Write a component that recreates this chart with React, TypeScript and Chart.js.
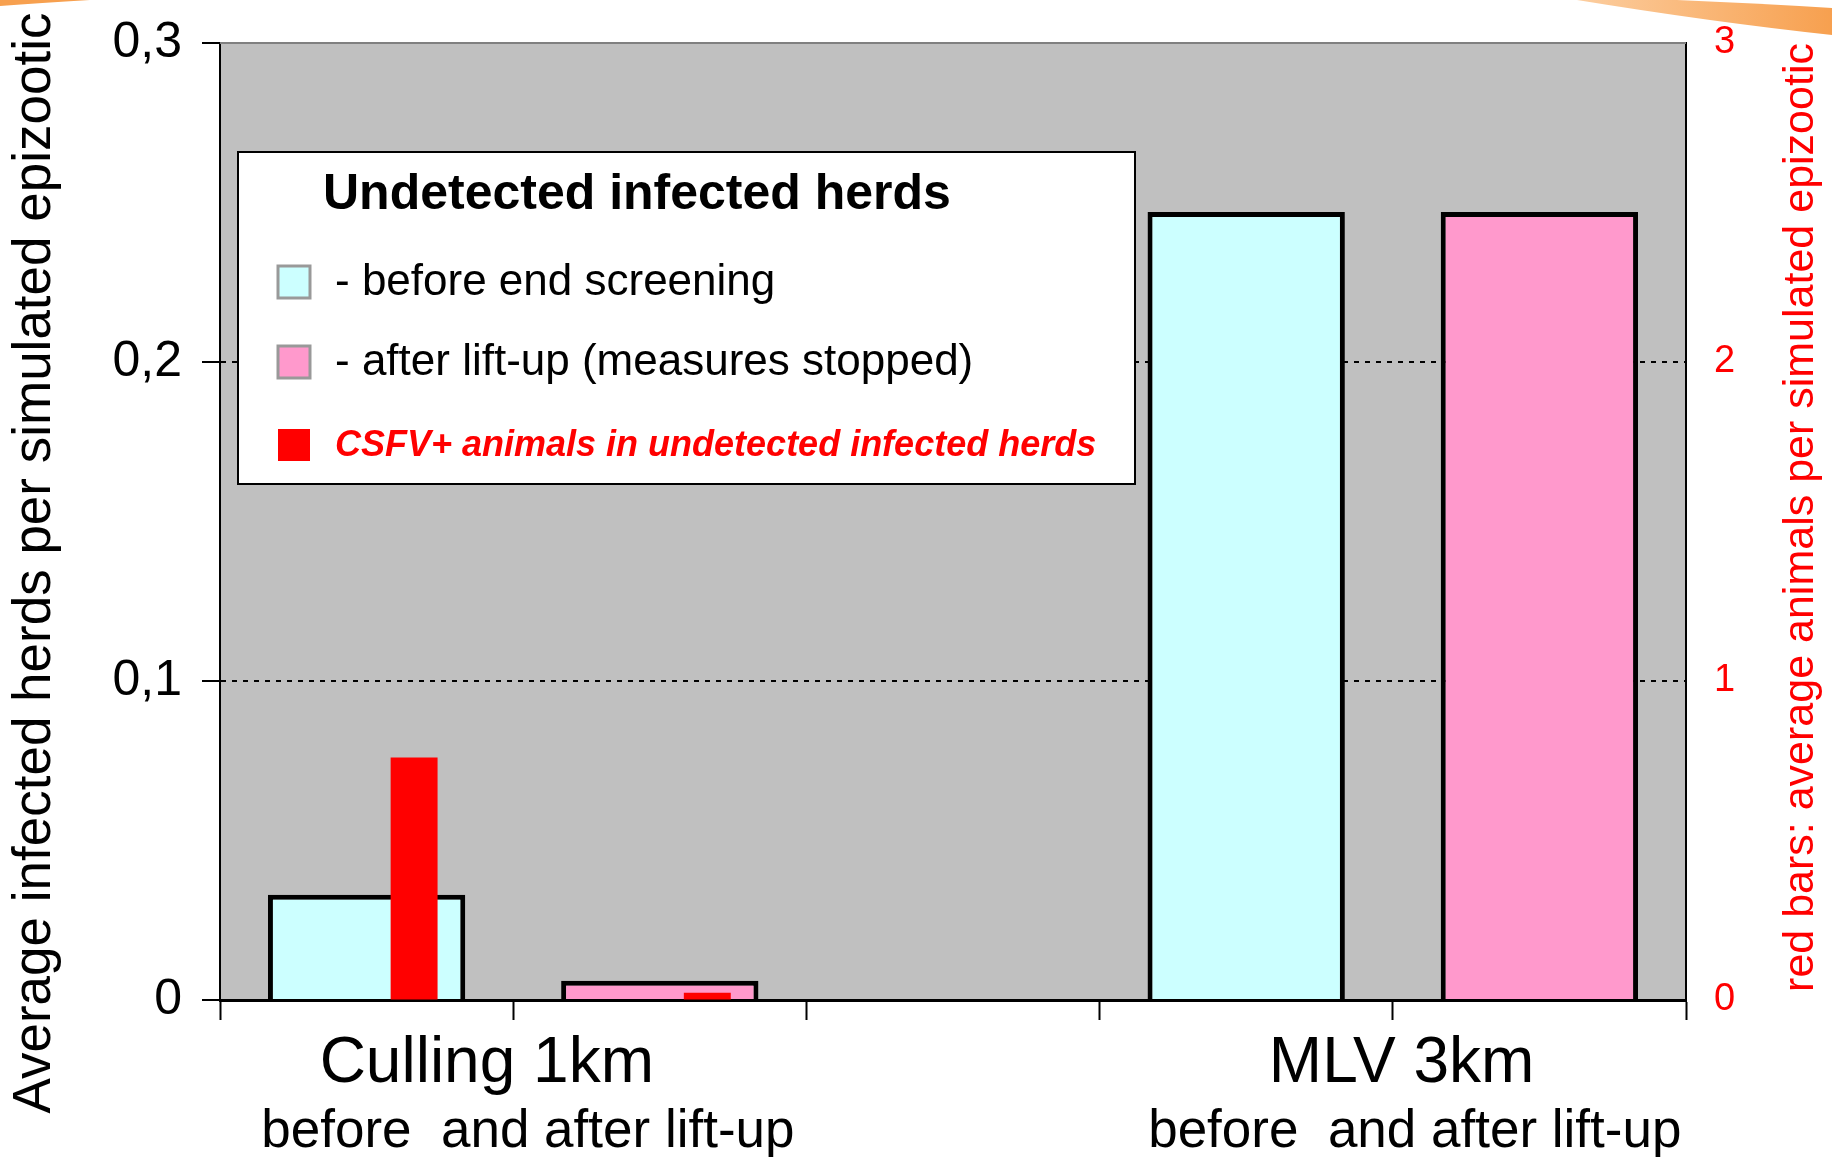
import React, { useEffect, useRef } from "react";
import { Chart, registerables } from "chart.js";

Chart.register(...registerables);

const FONT = "'Liberation Sans', Arial, Helvetica, sans-serif";

// ---- data ----
const categories = ["Culling 1km before", "Culling 1km after", "", "MLV 3km before", "MLV 3km after"];
const groupCaptions = ["Culling 1km", "MLV 3km"];
const groupSubCaption = "before  and after lift-up";
const herdsBefore = [0.033, null, null, 0.247, null];
const herdsAfter = [null, 0.006, null, null, 0.247];
const redAnimals = [0.76, 0.023, null, null, null];
const leftTickLabels = ["0", "0,1", "0,2", "0,3"];
const rightTickLabels = ["0", "1", "2", "3"];
const legendTitle = "Undetected infected herds";
const labelBefore = "- before end screening";
const labelAfter = "- after lift-up (measures stopped)";
const labelRed = "CSFV+ animals in undetected infected herds";
const leftTitle = "Average infected herds per simulated epizootic";
const rightTitle = "red bars: average animals per simulated epizootic";

const decorPlugin = {
  id: "decor",
  beforeDraw(chart: any) {
    const { ctx, chartArea, width } = chart;
    ctx.save();
    ctx.fillStyle = "#ffffff";
    ctx.fillRect(0, 0, chart.width, chart.height);
    // orange slide decoration
    const g = ctx.createLinearGradient(width - 270, 0, width, 0);
    g.addColorStop(0, "#fcd0a4");
    g.addColorStop(1, "#f7a04f");
    ctx.fillStyle = g;
    ctx.beginPath();
    ctx.moveTo(width - 255, 0);
    ctx.quadraticCurveTo(width - 120, 22, width, 35);
    ctx.lineTo(width, 8);
    ctx.quadraticCurveTo(width - 80, 3, width - 155, 0);
    ctx.closePath();
    ctx.fill();
    ctx.fillStyle = "#f7a04f";
    ctx.beginPath();
    ctx.moveTo(0, 0);
    ctx.lineTo(90, 0);
    ctx.quadraticCurveTo(40, 3, 0, 6);
    ctx.closePath();
    ctx.fill();
    // plot area background
    ctx.fillStyle = "#c0c0c0";
    ctx.fillRect(chartArea.left, chartArea.top, chartArea.right - chartArea.left, chartArea.bottom - chartArea.top);
    ctx.restore();
  },
};

const overlayPlugin = {
  id: "overlay",
  afterDatasetsDraw(chart: any) {
    const { ctx, chartArea } = chart;
    const ds = chart.data.datasets;
    ctx.save();
    // top border of plot area
    ctx.strokeStyle = "#808080";
    ctx.lineWidth = 2;
    ctx.beginPath();
    ctx.moveTo(chartArea.left, chartArea.top);
    ctx.lineTo(chartArea.right, chartArea.top);
    ctx.stroke();

    // legend box
    const x0 = chartArea.left + 18;
    const y0 = chartArea.top + 109;
    const w = 897;
    const h = 332;
    ctx.fillStyle = "#ffffff";
    ctx.fillRect(x0, y0, w, h);
    ctx.strokeStyle = "#000000";
    ctx.lineWidth = 2;
    ctx.strokeRect(x0, y0, w, h);

    ctx.textAlign = "left";
    ctx.textBaseline = "middle";
    ctx.fillStyle = "#000000";
    ctx.font = `bold 50px ${FONT}`;
    ctx.fillText(legendTitle, x0 + 85, y0 + 43);

    const items = [
      { d: ds[0], y: y0 + 130, font: `44px ${FONT}`, color: "#000000", box: true },
      { d: ds[1], y: y0 + 210, font: `44px ${FONT}`, color: "#000000", box: true },
      { d: ds[3], y: y0 + 293, font: `italic bold 36px ${FONT}`, color: "#ff0000", box: false },
    ];
    for (const it of items) {
      ctx.fillStyle = it.d.backgroundColor;
      ctx.fillRect(x0 + 40, it.y - 16, 32, 32);
      if (it.box) {
        ctx.strokeStyle = "#999999";
        ctx.lineWidth = 3;
        ctx.strokeRect(x0 + 40, it.y - 16, 32, 32);
      }
      ctx.fillStyle = it.color;
      ctx.font = it.font;
      ctx.fillText(it.d.label, x0 + 97, it.y + 1);
    }
    ctx.restore();
  },
  afterDraw(chart: any) {
    const { ctx, chartArea } = chart;
    const xs = chart.scales.x;
    ctx.save();
    ctx.fillStyle = "#000000";
    ctx.textAlign = "center";
    ctx.textBaseline = "middle";
    const capPos = [0.41, 3.53];
    const subPos = [0.55, 3.575];
    groupCaptions.forEach((c, i) => {
      ctx.font = `64px ${FONT}`;
      ctx.fillText(c, xs.getPixelForValue(capPos[i]), chartArea.bottom + 64);
      ctx.font = `53px ${FONT}`;
      ctx.fillText(groupSubCaption, xs.getPixelForValue(subPos[i]), chartArea.bottom + 132);
    });
    ctx.restore();

    // left axis title, reading bottom to top
    ctx.save();
    ctx.textAlign = "center";
    ctx.textBaseline = "middle";
    ctx.translate(35, 563);
    ctx.rotate(-Math.PI / 2);
    ctx.fillStyle = "#000000";
    ctx.font = `53px ${FONT}`;
    ctx.fillText(leftTitle, 0, 0);
    ctx.restore();

    // right axis title, reading bottom to top
    ctx.save();
    ctx.textAlign = "center";
    ctx.textBaseline = "middle";
    ctx.translate(chartArea.right + 115, (chartArea.top + chartArea.bottom) / 2 - 4);
    ctx.rotate(-Math.PI / 2);
    ctx.fillStyle = "#ff0000";
    ctx.font = `43px ${FONT}`;
    ctx.fillText(rightTitle, 0, 0);
    ctx.restore();
  },
};

export default function App() {
  const ref = useRef<HTMLCanvasElement | null>(null);

  useEffect(() => {
    document.body.style.margin = "0";
    const canvas = ref.current;
    if (!canvas) return;
    const chart = new Chart(canvas, {
      type: "bar",
      data: {
        labels: categories,
        datasets: [
          {
            label: labelBefore,
            data: herdsBefore,
            backgroundColor: "#ccffff",
            borderColor: "#000000",
            borderWidth: 5,
            grouped: false,
            categoryPercentage: 1,
            barPercentage: 0.673,
            xAxisID: "x",
            yAxisID: "y",
            order: 1,
          },
          {
            label: labelAfter,
            data: herdsAfter,
            backgroundColor: "#ff99cc",
            borderColor: "#000000",
            borderWidth: 5,
            grouped: false,
            categoryPercentage: 1,
            barPercentage: 0.673,
            xAxisID: "x",
            yAxisID: "y",
            order: 1,
          },
          {
            label: "",
            data: [null, null, null, null, null],
            backgroundColor: "rgba(0,0,0,0)",
            borderWidth: 0,
            categoryPercentage: 1.296,
            barPercentage: 0.494,
            xAxisID: "xr",
            yAxisID: "y2",
            order: 0,
          },
          {
            label: labelRed,
            data: redAnimals,
            backgroundColor: "#ff0000",
            borderWidth: 0,
            categoryPercentage: 1.296,
            barPercentage: 0.494,
            xAxisID: "xr",
            yAxisID: "y2",
            order: 0,
          },
        ] as any,
      },
      options: {
        responsive: false,
        animation: false,
        devicePixelRatio: 1,
        layout: { padding: { top: 43, left: 0, right: 0, bottom: 0 } },
        plugins: {
          legend: { display: false },
          tooltip: { enabled: false },
          title: { display: false },
        },
        scales: {
          x: {
            type: "category",
            position: "bottom",
            offset: true,
            grid: {
              display: true,
              offset: true,
              drawOnChartArea: false,
              drawTicks: true,
              tickLength: 20,
              tickColor: "#000000",
              tickWidth: 2,
              tickBorderDash: [],
            },
            border: { display: true, color: "#000000", width: 3 },
            ticks: { display: false },
            afterFit: (s: any) => {
              s.height = 157;
            },
          },
          xr: {
            type: "category",
            position: "bottom",
            display: false,
            offset: true,
            labels: categories,
            grid: { offset: true },
          },
          y: {
            type: "linear",
            position: "left",
            min: 0,
            max: 0.3,
            ticks: {
              stepSize: 0.1,
              color: "#000000",
              padding: 20,
              font: { family: FONT, size: 50 },
              callback: (_v: any, i: number) => leftTickLabels[i],
            },
            grid: {
              display: true,
              drawOnChartArea: true,
              drawTicks: true,
              tickLength: 18,
              tickWidth: 2,
              tickColor: "#000000",
              tickBorderDash: [],
              lineWidth: 2,
              color: (c: any) => (c.index > 0 && c.index < 3 ? "#000000" : "rgba(0,0,0,0)"),
            },
            border: { display: true, color: "#000000", width: 2, dash: [5, 6] },
            title: { display: false },
            afterFit: (s: any) => {
              s.width = 220;
              s.paddingTop = 0;
              s.paddingBottom = 0;
            },
          },
          y2: {
            type: "linear",
            position: "right",
            min: 0,
            max: 3,
            ticks: {
              stepSize: 1,
              color: "#ff0000",
              padding: 28,
              font: { family: FONT, size: 38 },
              callback: (_v: any, i: number) => rightTickLabels[i],
            },
            grid: { display: true, drawOnChartArea: false, drawTicks: false },
            border: { display: true, color: "#000000", width: 2 },
            afterFit: (s: any) => {
              s.width = 146;
              s.paddingTop = 0;
              s.paddingBottom = 0;
            },
          },
        },
      } as any,
      plugins: [decorPlugin, overlayPlugin],
    });
    return () => chart.destroy();
  }, []);

  return <canvas ref={ref} width={1832} height={1157} style={{ display: "block" }} />;
}
